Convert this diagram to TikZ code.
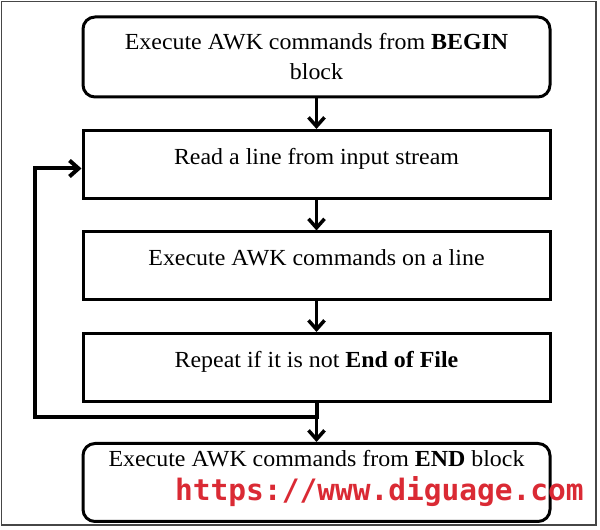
\documentclass[tikz,border=0pt]{standalone}
\usepackage{fontspec}
\setmainfont[FakeStretch=1.04]{Liberation Serif}
\newfontfamily\urlfont{DejaVu Sans Mono}
\usetikzlibrary{positioning,arrows.meta}
\definecolor{markred}{RGB}{218,42,52}
\definecolor{framegray}{RGB}{70,70,70}

\begin{document}
\begin{tikzpicture}[x=1pt, y=1pt, node distance=30.5pt,
    stepbox/.style={draw, line width=3pt, minimum width=467pt, inner xsep=0pt, inner ysep=0pt,
        font=\fontsize{23}{30}\selectfont},
    endbox/.style={stepbox, rounded corners=12pt},
    onebox/.style={stepbox, text height=34pt, text depth=34pt},
    flow/.style={line width=3.5pt, -{Straight Barb[length=9pt, width=16pt]}}]
    \useasboundingbox (0,0) rectangle (600,530);
    \draw[framegray, line width=1.5pt] (1.5,5) rectangle (596,528.5);
    % Steps
    \node[endbox, minimum height=80pt, align=center] (begin) at (316.5,473)
        {Execute AWK commands from \textbf{BEGIN}\\block};
    \node[onebox, below=of begin] (read) {Read a line from input stream};
    \node[onebox, below=of read] (exec) {Execute AWK commands on a line};
    \node[onebox, below=of exec] (repeat) {Repeat if it is not \textbf{End of File}};
    \node[endbox, text height=23pt, text depth=55pt, below=39pt of repeat] (end)
        {Execute AWK commands from \textbf{END} block};
    % Arrows
    \draw[flow] (begin) -- (read);
    \draw[flow] (read) -- (exec);
    \draw[flow] (exec) -- (repeat);
    \draw[flow] (repeat) -- (end);
    % Loop back
    \coordinate (loopleft) at (35,113.3);
    \draw[flow, line width=4pt] (repeat.south) |- (loopleft) |- ([yshift=-4pt]read.west);
    % Watermark
    \node[anchor=base west, inner sep=0pt, text=markred, font=\urlfont\bfseries\fontsize{29.5}{30}\selectfont]
        (mark) at (175,29.3) {https://www.diguage.com};
\end{tikzpicture}
\end{document}
